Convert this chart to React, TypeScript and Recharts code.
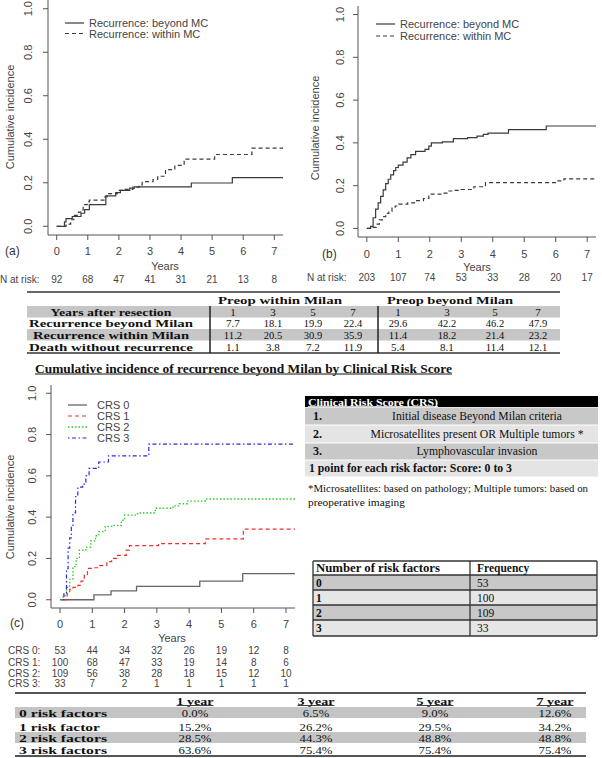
import React from 'react';
import { LineChart, Line, XAxis, YAxis } from 'recharts';

// ---------------- data ----------------
const yearTicks = [0, 1, 2, 3, 4, 5, 6, 7];
const ciTicks = [0, 0.2, 0.4, 0.6, 0.8, 1.0];

// Panel (a): preop within Milan
const aBeyondTime = [0, 0.25, 0.3, 0.5, 0.78, 0.9, 1.05, 1.58, 1.9, 2.05, 2.35, 2.5, 4.33, 5.65, 7.28];
const aBeyondCI = [0, 0.02, 0.035, 0.045, 0.06, 0.077, 0.1, 0.14, 0.155, 0.165, 0.175, 0.181, 0.199, 0.224, 0.224];
const aWithinTime = [0, 0.2, 0.3, 0.45, 0.55, 0.7, 0.85, 0.98, 1.05, 1.55, 1.62, 1.95, 2.1, 2.45, 2.65, 2.75, 3.1, 3.25, 3.5, 3.8, 4.1, 5.08, 6.28, 7.28];
const aWithinCI = [0, 0, 0.01, 0.03, 0.05, 0.065, 0.1, 0.112, 0.12, 0.135, 0.15, 0.165, 0.17, 0.18, 0.19, 0.205, 0.215, 0.23, 0.26, 0.28, 0.309, 0.33, 0.359, 0.359];
const aAtRisk = [92, 68, 47, 41, 31, 21, 13, 8];

// Panel (b): preop beyond Milan
const bBeyondTime = [0, 0.12, 0.2, 0.28, 0.36, 0.44, 0.52, 0.6, 0.68, 0.76, 0.85, 0.92, 1.0, 1.15, 1.28, 1.4, 1.55, 1.85, 1.97, 2.05, 2.4, 2.75, 3.2, 3.5, 3.7, 3.85, 4.5, 5.7, 7.28];
const bBeyondCI = [0, 0.01, 0.05, 0.09, 0.12, 0.15, 0.18, 0.21, 0.23, 0.25, 0.27, 0.285, 0.296, 0.31, 0.33, 0.345, 0.36, 0.37, 0.385, 0.4, 0.405, 0.42, 0.425, 0.432, 0.44, 0.446, 0.462, 0.479, 0.479];
const bWithinTime = [0, 0.2, 0.3, 0.4, 0.5, 0.6, 0.7, 0.8, 0.9, 1.0, 1.3, 1.55, 1.8, 1.97, 2.35, 2.55, 2.8, 3.0, 3.4, 3.77, 6.05, 6.26, 7.28];
const bWithinCI = [0, 0.005, 0.02, 0.04, 0.055, 0.07, 0.08, 0.095, 0.105, 0.114, 0.12, 0.13, 0.14, 0.16, 0.165, 0.175, 0.178, 0.182, 0.195, 0.214, 0.222, 0.232, 0.232];
const bAtRisk = [203, 107, 74, 53, 33, 28, 20, 17];

// Panel (c): by Clinical Risk Score
const crs0Time = [0, 1.05, 1.58, 2.37, 4.33, 5.66, 7.28];
const crs0CI = [0, 0.024, 0.043, 0.065, 0.09, 0.126, 0.126];
const crs1Time = [0.1, 0.22, 0.3, 0.4, 0.55, 0.65, 0.75, 0.85, 1.05, 1.2, 1.45, 1.6, 1.75, 2.05, 2.15, 3.05, 4.5, 5.68, 7.28];
const crs1CI = [0, 0.03, 0.05, 0.06, 0.07, 0.09, 0.12, 0.152, 0.155, 0.165, 0.185, 0.2, 0.215, 0.24, 0.262, 0.272, 0.295, 0.342, 0.342];
const crs2Time = [0.05, 0.1, 0.2, 0.3, 0.4, 0.5, 0.6, 0.8, 0.95, 1.1, 1.2, 1.4, 1.6, 1.9, 2.0, 2.4, 2.95, 3.5, 3.7, 3.95, 4.5, 7.28];
const crs2CI = [0, 0.02, 0.06, 0.1, 0.16, 0.2, 0.24, 0.255, 0.285, 0.31, 0.33, 0.355, 0.36, 0.385, 0.41, 0.42, 0.443, 0.455, 0.465, 0.478, 0.488, 0.488];
const crs3Time = [0.08, 0.12, 0.2, 0.25, 0.3, 0.35, 0.4, 0.48, 0.55, 0.7, 0.8, 0.9, 1.2, 1.5, 2.75, 7.28];
const crs3CI = [0, 0.03, 0.15, 0.25, 0.3, 0.35, 0.42, 0.5, 0.545, 0.56, 0.6, 0.636, 0.667, 0.697, 0.754, 0.754];
const crs0AtRisk = [53, 44, 34, 32, 26, 19, 12, 8];
const crs1AtRisk = [100, 68, 47, 33, 19, 14, 8, 6];
const crs2AtRisk = [109, 56, 38, 28, 18, 15, 12, 10];
const crs3AtRisk = [33, 7, 2, 1, 1, 1, 1, 1];
const crsNames = ['CRS 0', 'CRS 1', 'CRS 2', 'CRS 3'];
const mcNames = ['Recurrence: beyond MC', 'Recurrence: within MC'];

// Middle table
const midYears = ['1', '3', '5', '7'];
const midHeader = ['Preop within Milan', 'Preop beyond Milan'];
const midRowLabels = ['Years after resection', 'Recurrence beyond Milan', 'Recurrence within Milan', 'Death without recurrence'];
const midWithin = [[7.7, 18.1, 19.9, 22.4], [11.2, 20.5, 30.9, 35.9], [1.1, 3.8, 7.2, 11.9]];
const midBeyond = [[29.6, 42.2, 46.2, 47.9], [11.4, 18.2, 21.4, 23.2], [5.4, 8.1, 11.4, 12.1]];

// CRS definition table
const crsFactors = ['Initial disease Beyond Milan criteria', 'Microsatellites present OR Multiple tumors *', 'Lymphovascular invasion'];
const crsFootnote = ['*Microsatellites: based on pathology; Multiple tumors: based on', 'preoperative imaging'];

// Frequency table
const freqHeader = ['Number of risk factors', 'Frequency'];
const freqFactors = ['0', '1', '2', '3'];
const freqCounts = [53, 100, 109, 33];

// Bottom table
const bottomCols = ['1 year', '3 year', '5 year', '7 year'];
const bottomRows = ['0 risk factors', '1 risk factor', '2 risk factors', '3 risk factors'];
const bottomVals = [[0.0, 6.5, 9.0, 12.6], [15.2, 26.2, 29.5, 34.2], [28.5, 44.3, 48.8, 48.8], [63.6, 75.4, 75.4, 75.4]];

// ---------------- helpers ----------------
const SANS = '"Liberation Sans", Arial, sans-serif';
const SERIF = '"Liberation Serif", "Times New Roman", serif';
const zip = (ts: number[], vs: number[]) => ts.map((t, i) => ({ t, v: vs[i] }));

type Series = { name: string; data: { t: number; v: number }[]; color: string; dash?: string; width: number };

const T = (p: any) => (
  <text
    x={p.x}
    y={p.y}
    dominantBaseline="central"
    textAnchor={p.anchor || 'start'}
    fontSize={p.size || 12}
    fontWeight={p.bold ? 'bold' : 'normal'}
    fill={p.fill || '#111'}
    fontFamily={p.family || SERIF}
    textLength={p.w}
    lengthAdjust={p.w ? 'spacingAndGlyphs' : undefined}
    transform={p.rotate ? `rotate(-90 ${p.x} ${p.y})` : undefined}
    letterSpacing={p.ls}
  >
    {p.children}
  </text>
);

function KMChart(props: {
  left: number; top: number; width: number; height: number;
  margin: any; yAxisWidth: number; xAxisHeight: number;
  series: Series[]; tickLabelY: number; yTickX: number;
  riskRows: { y: number; values: number[] }[];
}) {
  const { left, top, width, height, margin, yAxisWidth, xAxisHeight, series, tickLabelY, yTickX, riskRows } = props;
  const xTick = (tp: any) => {
    const v = tp.payload.value;
    const i = yearTicks.indexOf(v);
    return (
      <g>
        <text x={tp.x} y={tickLabelY} textAnchor="middle" dominantBaseline="central" fontSize={11} fill="#444" fontFamily={SANS}>{v}</text>
        {riskRows.map((r, k) => (
          <text key={k} x={tp.x} y={r.y} textAnchor="middle" dominantBaseline="central" fontSize={10} fill="#444" fontFamily={SANS}>{r.values[i]}</text>
        ))}
      </g>
    );
  };
  const yTick = (tp: any) => (
    <text x={yTickX} y={tp.y} textAnchor="middle" dominantBaseline="central" fontSize={11} fill="#444" fontFamily={SANS}
      transform={`rotate(-90 ${yTickX} ${tp.y})`}>{Number(tp.payload.value).toFixed(1)}</text>
  );
  return (
    <div style={{ position: 'absolute', left, top }}>
      <LineChart width={width} height={height} margin={margin}>
        <XAxis type="number" dataKey="t" domain={[-0.28, 7.28]} ticks={yearTicks} allowDataOverflow interval={0}
          height={xAxisHeight} tickSize={5} stroke="#555" tick={xTick} />
        <YAxis type="number" dataKey="v" domain={[-0.04, 1.04]} ticks={ciTicks} allowDataOverflow interval={0}
          width={yAxisWidth} tickSize={5} stroke="#555" tick={yTick} />
        {series.map((s) => (
          <Line key={s.name} name={s.name} data={s.data} dataKey="v" type="stepAfter" stroke={s.color}
            strokeWidth={s.width} strokeDasharray={s.dash} dot={false} activeDot={false} isAnimationActive={false} />
        ))}
      </LineChart>
    </div>
  );
}

const Legend = ({ x, y, gap, items, textX }: any) => (
  <g>
    {items.map((it: any, i: number) => (
      <g key={i}>
        <line x1={x} x2={x + 19} y1={y + i * gap} y2={y + i * gap} stroke={it.color} strokeWidth={it.width} strokeDasharray={it.dash} />
        <T x={textX} y={y + i * gap} size={11} family={SANS} fill="#444">{it.name}</T>
      </g>
    ))}
  </g>
);

export default function App() {
  const aSeries: Series[] = [
    { name: mcNames[0], data: zip(aBeyondTime, aBeyondCI), color: '#3a3a3a', width: 1.2 },
    { name: mcNames[1], data: zip(aWithinTime, aWithinCI), color: '#3a3a3a', dash: '4 3', width: 1.2 },
  ];
  const bSeries: Series[] = [
    { name: mcNames[0], data: zip(bBeyondTime, bBeyondCI), color: '#3a3a3a', width: 1.2 },
    { name: mcNames[1], data: zip(bWithinTime, bWithinCI), color: '#3a3a3a', dash: '4 3', width: 1.2 },
  ];
  const cSeries: Series[] = [
    { name: crsNames[0], data: zip(crs0Time, crs0CI), color: '#666666', width: 1.3 },
    { name: crsNames[1], data: zip(crs1Time, crs1CI), color: '#ee3030', dash: '4 3', width: 1.2 },
    { name: crsNames[2], data: zip(crs2Time, crs2CI), color: '#22cc22', dash: '1.5 2', width: 1.3 },
    { name: crsNames[3], data: zip(crs3Time, crs3CI), color: '#2828ee', dash: '1.5 2.5 4 2.5', width: 1.2 },
  ];

  const midWithinX = [233, 273, 313, 353];
  const midBeyondX = [398, 447, 495, 538];
  const midRowY = [311.5, 323, 335, 346.5];
  const midLabelW = [121, 164, 156, 164];
  const midValW = (s: string) => s.length * 4.6;
  const crsRowY = [416, 434, 451];
  const crsTextW = [170, 213, 121];
  const freqRowY = [582.5, 597.5, 612.5, 628];
  const bottomColX = [195, 316, 435, 555];
  const bottomRowY = [712.5, 726.5, 738, 750];
  const bottomLabelW = [88, 81, 88, 88];

  return (
    <div style={{ position: 'absolute', left: 0, top: 0, width: 602, height: 758, background: '#fff', overflow: 'hidden' }}>
      <svg width={602} height={758} style={{ position: 'absolute', left: 0, top: 0 }}>
        {/* panel (a) annotations */}
        <T x={10} y={117} size={11} family={SANS} fill="#444" anchor="middle" rotate>Cumulative incidence</T>
        <Legend x={65} y={23} gap={10.5} textX={89} items={aSeries} />
        <T x={5} y={251} size={12} family={SANS} fill="#333">(a)</T>
        <T x={165} y={266} size={11} family={SANS} fill="#444" anchor="middle">Years</T>
        <T x={0} y={279} size={10} family={SANS} fill="#444">N at risk:</T>

        {/* panel (b) annotations */}
        <T x={315} y={128} size={11} family={SANS} fill="#444" anchor="middle" rotate>Cumulative incidence</T>
        <Legend x={376} y={24} gap={12} textX={400} items={bSeries} />
        <T x={322} y={254} size={12} family={SANS} fill="#333">(b)</T>
        <T x={477} y={267} size={11} family={SANS} fill="#444" anchor="middle">Years</T>
        <T x={307} y={277} size={10} family={SANS} fill="#444">N at risk:</T>

        {/* middle table */}
        <rect x={27} y={306} width={533} height={11.5} fill="#c6c6c6" />
        <rect x={27} y={329} width={533} height={11.5} fill="#c6c6c6" />
        <line x1={27} x2={560} y1={292} y2={292} stroke="#666" strokeWidth={2} />
        <line x1={27} x2={560} y1={353} y2={353} stroke="#666" strokeWidth={2} />
        <line x1={210} x2={210} y1={306} y2={353} stroke="#222" strokeWidth={1.5} />
        <line x1={378} x2={378} y1={306} y2={353} stroke="#222" strokeWidth={1.5} />
        <T x={280} y={300} size={11} bold anchor="middle" w={124}>{midHeader[0]}</T>
        <T x={450} y={300} size={11} bold anchor="middle" w={126}>{midHeader[1]}</T>
        {midRowLabels.map((l, i) => (
          <T key={l} x={111} y={midRowY[i]} size={11} bold anchor="middle" w={midLabelW[i]}>{l}</T>
        ))}
        {midYears.map((yv, j) => (
          <g key={yv}>
            <T x={midWithinX[j]} y={midRowY[0]} size={11} anchor="middle">{yv}</T>
            <T x={midBeyondX[j]} y={midRowY[0]} size={11} anchor="middle">{yv}</T>
          </g>
        ))}
        {midWithin.map((row, i) => row.map((v, j) => (
          <T key={`w${i}${j}`} x={midWithinX[j]} y={midRowY[i + 1]} size={11} anchor="middle" w={midValW(v.toFixed(1))}>{v.toFixed(1)}</T>
        )))}
        {midBeyond.map((row, i) => row.map((v, j) => (
          <T key={`b${i}${j}`} x={midBeyondX[j]} y={midRowY[i + 1]} size={11} anchor="middle" w={midValW(v.toFixed(1))}>{v.toFixed(1)}</T>
        )))}

        {/* title */}
        <T x={35} y={368} size={13.5} bold w={417}>Cumulative incidence of recurrence beyond Milan by Clinical Risk Score</T>
        <line x1={35} x2={452} y1={374} y2={374} stroke="#111" strokeWidth={1} />

        {/* panel (c) annotations */}
        <T x={10} y={507} size={11} family={SANS} fill="#444" anchor="middle" rotate>Cumulative incidence</T>
        <Legend x={68} y={405} gap={11} textX={97} items={cSeries} />
        <T x={10} y={623} size={12} family={SANS} fill="#333">(c)</T>
        <T x={172} y={638} size={11} family={SANS} fill="#444" anchor="middle">Years</T>
        {crsNames.map((n, i) => (
          <T key={n} x={8} y={[650, 662, 673, 683][i]} size={10} family={SANS} fill="#444">{n + ':'}</T>
        ))}

        {/* CRS definition table */}
        <rect x={305} y={396} width={293} height={11} fill="#000" />
        <T x={308} y={401.5} size={11} bold fill="#fff" w={130}>Clinical Risk Score (CRS)</T>
        <line x1={308} x2={438} y1={406.5} y2={406.5} stroke="#fff" strokeWidth={0.8} />
        <rect x={305} y={407.5} width={293} height={17} fill="#c8c8c8" />
        <rect x={305} y={425.5} width={293} height={17} fill="#e4e4e4" />
        <rect x={305} y={443.5} width={293} height={16} fill="#c8c8c8" />
        <rect x={305} y={460.5} width={293} height={16} fill="#e4e4e4" />
        {crsFactors.map((f, i) => (
          <g key={f}>
            <T x={313} y={crsRowY[i]} size={12} bold>{`${i + 1}.`}</T>
            <T x={477} y={crsRowY[i]} size={12} anchor="middle" w={crsTextW[i]}>{f}</T>
          </g>
        ))}
        <T x={309} y={468} size={12} bold w={203}>1 point for each risk factor: Score: 0 to 3</T>
        <T x={308} y={488} size={10.5} w={280}>{crsFootnote[0]}</T>
        <T x={308} y={502} size={10.5} w={97}>{crsFootnote[1]}</T>

        {/* frequency table */}
        {[0, 1, 2, 3].map((i) => (
          <rect key={i} x={313} y={[575, 590, 605, 620][i]} width={284} height={[15, 15, 15, 16][i]} fill={i % 2 === 0 ? '#c8c8c8' : '#e6e6e6'} />
        ))}
        {[561, 575, 590, 605, 620, 636].map((y) => (
          <line key={y} x1={313} x2={597} y1={y} y2={y} stroke="#333" strokeWidth={1.3} />
        ))}
        {[313, 470, 597].map((x) => (
          <line key={x} x1={x} x2={x} y1={561} y2={636} stroke="#333" strokeWidth={1.3} />
        ))}
        <T x={316} y={568} size={11.5} bold w={124}>{freqHeader[0]}</T>
        <T x={477} y={568} size={11.5} bold>{freqHeader[1]}</T>
        {freqFactors.map((f, i) => (
          <g key={f}>
            <T x={316} y={freqRowY[i]} size={11.5} bold>{f}</T>
            <T x={477} y={freqRowY[i]} size={11.5}>{freqCounts[i]}</T>
          </g>
        ))}

        {/* bottom table */}
        <rect x={15} y={707} width={571} height={11} fill="#c4c4c4" />
        <rect x={15} y={732} width={571} height={11} fill="#c4c4c4" />
        <line x1={15} x2={586} y1={693} y2={693} stroke="#555" strokeWidth={2} />
        <line x1={15} x2={586} y1={756} y2={756} stroke="#555" strokeWidth={2} />
        {bottomCols.map((c, j) => (
          <g key={c}>
            <T x={bottomColX[j]} y={700.5} size={11} bold anchor="middle" w={37}>{c}</T>
            <line x1={bottomColX[j] - 18.5} x2={bottomColX[j] + 18.5} y1={705.5} y2={705.5} stroke="#111" strokeWidth={0.8} />
          </g>
        ))}
        {bottomRows.map((r, i) => (
          <g key={r}>
            <T x={19} y={bottomRowY[i]} size={11} bold w={bottomLabelW[i]}>{r}</T>
            {bottomVals[i].map((v, j) => {
              const s = v.toFixed(1) + '%';
              return <T key={j} x={bottomColX[j]} y={bottomRowY[i]} size={11} anchor="middle" w={s.length * 6.6}>{s}</T>;
            })}
          </g>
        ))}
      </svg>

      <KMChart left={0} top={0} width={300} height={290}
        margin={{ top: 0, right: 17, left: 0, bottom: 0 }} yAxisWidth={48} xAxisHeight={55}
        series={aSeries} tickLabelY={251} yTickX={28} riskRows={[{ y: 279, values: aAtRisk }]} />
      <KMChart left={300} top={0} width={302} height={290}
        margin={{ top: 6, right: 6, left: 0, bottom: 0 }} yAxisWidth={58} xAxisHeight={53}
        series={bSeries} tickLabelY={254} yTickX={40} riskRows={[{ y: 277, values: bAtRisk }]} />
      <KMChart left={0} top={385} width={300} height={310}
        margin={{ top: 0, right: 5, left: 0, bottom: 0 }} yAxisWidth={51} xAxisHeight={87}
        series={cSeries} tickLabelY={239}
        yTickX={32}
        riskRows={[
          { y: 265, values: crs0AtRisk },
          { y: 277, values: crs1AtRisk },
          { y: 288, values: crs2AtRisk },
          { y: 298, values: crs3AtRisk },
        ]} />
    </div>
  );
}
